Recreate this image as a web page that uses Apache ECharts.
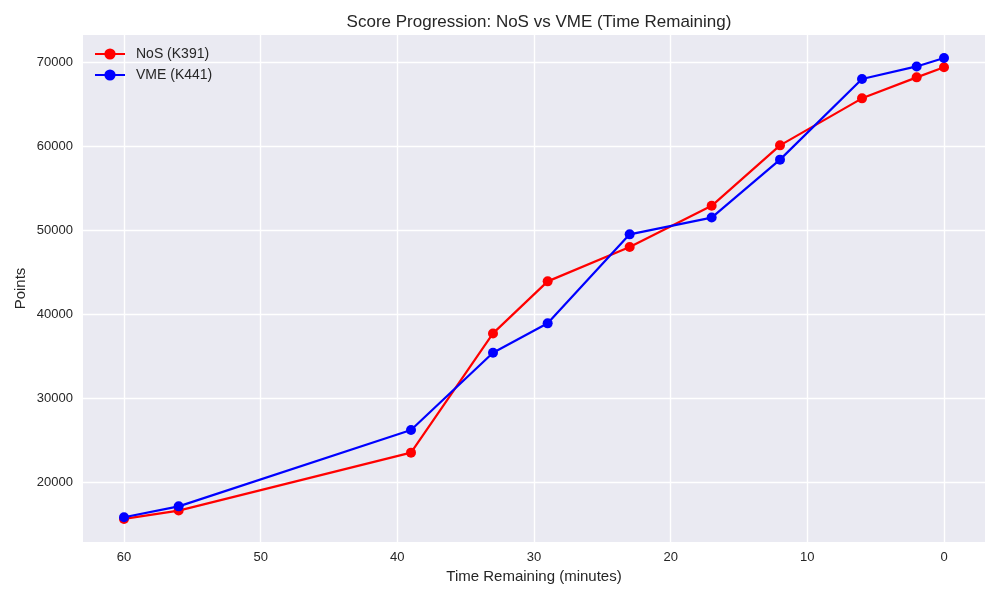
<!DOCTYPE html>
<html><head><meta charset="utf-8">
<script src="https://cdn.jsdelivr.net/npm/echarts@6/dist/echarts.min.js"></script>
<style>html,body{margin:0;padding:0;background:#fff}#c{width:1000px;height:600px}</style>
</head><body><div id="c"></div>
<script>
var timeRemaining = [60, 56, 39, 33, 29, 23, 17, 12, 6, 2, 0];
var nosPoints = [15600, 16600, 23500, 37700, 43900, 48000, 52900, 60100, 65700, 68200, 69400];
var vmePoints = [15800, 17100, 26200, 35400, 38900, 49500, 51500, 58400, 68000, 69500, 70500];
var xTicks = [0, 10, 20, 30, 40, 50, 60];
var yTicks = [20000, 30000, 40000, 50000, 60000, 70000];

var txt = '#262626';
var font = 'Liberation Sans, Arial, sans-serif';
// plot area in pixels
var L = 83, R = 985, T = 35, B = 542;
// matplotlib-like 5% margins
var xMinD = Math.min.apply(null, timeRemaining), xMaxD = Math.max.apply(null, timeRemaining);
var allY = nosPoints.concat(vmePoints);
var yMinD = Math.min.apply(null, allY), yMaxD = Math.max.apply(null, allY);
var xm = (xMaxD - xMinD) * 0.05, ym = (yMaxD - yMinD) * 0.05;
var xLo = xMinD - xm, xHi = xMaxD + xm, yLo = yMinD - ym, yHi = yMaxD + ym;
function px(v) { return R - (v - xLo) / (xHi - xLo) * (R - L); } // inverted axis
function py(v) { return B - (v - yLo) / (yHi - yLo) * (B - T); }
var xt0 = xTicks[0], xt1 = xTicks[xTicks.length - 1];
var yt0 = yTicks[0], yt1 = yTicks[yTicks.length - 1];

function pairs(ys) { return timeRemaining.map(function (t, i) { return [t, ys[i]]; }); }

var chart = echarts.init(document.getElementById('c'));
chart.setOption({
  backgroundColor: '#ffffff',
  animation: false,
  textStyle: { fontFamily: font },
  title: {
    text: 'Score Progression: NoS vs VME (Time Remaining)',
    left: (L + R) / 2, top: 9, textAlign: 'center',
    textStyle: { fontFamily: font, fontSize: 17, fontWeight: 'normal', color: txt }
  },
  legend: {
    orient: 'vertical', left: 89, top: 42, itemWidth: 30, itemHeight: 14, itemGap: 7,
    textStyle: { fontFamily: font, fontSize: 14, color: txt, padding: [0, 0, 0, 6] },
    data: ['NoS (K391)', 'VME (K441)']
  },
  grid: [
    { left: L, right: 1000 - R, top: T, bottom: 600 - B, show: true, backgroundColor: '#EAEAF2', borderWidth: 0 },
    { left: px(xt1), right: 1000 - px(xt0), top: T, bottom: 600 - B, show: false },
    { left: L, right: 1000 - R, top: py(yt1), bottom: 600 - py(yt0), show: false }
  ],
  xAxis: [
    { gridIndex: 0, type: 'value', min: xLo, max: xHi, inverse: true,
      axisLine: { show: false }, axisTick: { show: false }, axisLabel: { show: false }, splitLine: { show: false },
      name: 'Time Remaining (minutes)', nameLocation: 'middle', nameGap: 27,
      nameTextStyle: { fontFamily: font, fontSize: 15, color: txt } },
    { gridIndex: 1, type: 'value', min: xt0, max: xt1, interval: 10, inverse: true,
      axisLine: { show: false }, axisTick: { show: false },
      axisLabel: { margin: 9, fontFamily: font, fontSize: 13, color: txt, formatter: function (v) { return String(v); } },
      splitLine: { show: true, lineStyle: { color: '#ffffff', width: 1.4 } } },
    { gridIndex: 2, type: 'value', min: 0, max: 1, show: false }
  ],
  yAxis: [
    { gridIndex: 0, type: 'value', min: yLo, max: yHi,
      axisLine: { show: false }, axisTick: { show: false }, axisLabel: { show: false }, splitLine: { show: false },
      name: 'Points', nameLocation: 'middle', nameGap: 55, nameRotate: 90,
      nameTextStyle: { fontFamily: font, fontSize: 15, color: txt } },
    { gridIndex: 1, type: 'value', min: 0, max: 1, show: false },
    { gridIndex: 2, type: 'value', min: yt0, max: yt1, interval: 10000,
      axisLine: { show: false }, axisTick: { show: false },
      axisLabel: { margin: 10, fontFamily: font, fontSize: 13, color: txt, formatter: function (v) { return String(v); } },
      splitLine: { show: true, lineStyle: { color: '#ffffff', width: 1.4 } } }
  ],
  series: [
    { name: 'NoS (K391)', type: 'line', xAxisIndex: 0, yAxisIndex: 0, data: pairs(nosPoints),
      symbol: 'circle', symbolSize: 10, showAllSymbol: true,
      lineStyle: { color: '#ff0000', width: 2.2 }, itemStyle: { color: '#ff0000' }, z: 3 },
    { name: 'VME (K441)', type: 'line', xAxisIndex: 0, yAxisIndex: 0, data: pairs(vmePoints),
      symbol: 'circle', symbolSize: 10, showAllSymbol: true,
      lineStyle: { color: '#0000ff', width: 2.2 }, itemStyle: { color: '#0000ff' }, z: 4 }
  ]
});
</script></body></html>
